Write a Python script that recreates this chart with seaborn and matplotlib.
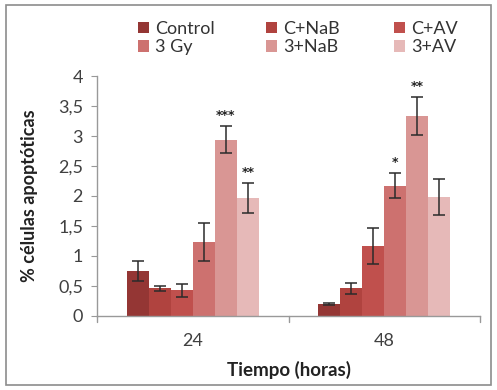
import matplotlib
matplotlib.use("Agg")
import matplotlib.pyplot as plt
import seaborn as sns
import pandas as pd
import numpy as np
from matplotlib.patches import Rectangle, Patch

times = ["24", "48"]
groups = ["Control", "C+NaB", "C+AV", "3 Gy", "3+NaB", "3+AV"]
vals_24 = [0.75, 0.46, 0.43, 1.23, 2.94, 1.97]
vals_48 = [0.20, 0.46, 1.17, 2.17, 3.33, 1.98]
err_24 = [0.16, 0.04, 0.11, 0.32, 0.22, 0.25]
err_48 = [0.01, 0.09, 0.30, 0.21, 0.32, 0.30]
stars_24 = ["", "", "", "", "***", "**"]
stars_48 = ["", "", "", "*", "**", ""]
colors = ["#943634", "#B0433F", "#C0504D", "#CD716F", "#D99694", "#E6B9B8"]

rows = []
for t, vals, errs, st in [("24", vals_24, err_24, stars_24), ("48", vals_48, err_48, stars_48)]:
    for g, v, e, s in zip(groups, vals, errs, st):
        rows.append(dict(Tiempo=t, Grupo=g, valor=v, err=e, star=s))
df = pd.DataFrame(rows)

sns.set_style("white")
plt.rcParams['font.family'] = ['Lato', 'DejaVu Sans']

W, H = 497, 390
fig = plt.figure(figsize=(W / 100, H / 100), dpi=100)
ax = fig.add_axes([0.195, 0.19, 0.771, 0.615])

sns.barplot(data=df, x="Tiempo", y="valor", hue="Grupo", order=times, hue_order=groups,
            palette=colors, errorbar=None, width=0.69, saturation=1, ax=ax,
            edgecolor="none", linewidth=0, legend=False)

# error bars and stars from bar geometry
for hi, g in enumerate(groups):
    cont = ax.containers[hi]
    for ti, t in enumerate(times):
        bar = cont.patches[ti]
        row = df[(df.Tiempo == t) & (df.Grupo == g)].iloc[0]
        xc = bar.get_x() + bar.get_width() / 2
        h = bar.get_height()
        ax.errorbar(xc, h, yerr=row.err, fmt="none", ecolor="#2b2b2b", elinewidth=1.1,
                    capsize=4, capthick=1.1)
        if row.star:
            ax.text(xc, h + row.err + 0.07, row.star, ha="center", va="bottom",
                    fontsize=9, fontweight="bold", color="#222222", family="DejaVu Sans")

ax.set_ylim(0, 4)
ax.set_xlim(-0.5, 1.5)
ax.set_yticks(np.arange(0, 4.01, 0.5))
ax.set_yticklabels([("%g" % v).replace(".", ",") for v in np.arange(0, 4.01, 0.5)])
ax.tick_params(axis="y", length=4, color="#999999", labelsize=13, labelcolor="#404040", pad=6, left=True)
ax.set_xticks([0, 1])
ax.set_xticklabels(times)
ax.tick_params(axis="x", length=0, labelsize=13, labelcolor="#404040", pad=12)
for v in [-0.5, 0.5, 1.5]:
    ax.plot([v, v], [0, -0.1], color="#999999", lw=1, clip_on=False)

for s in ["top", "right"]:
    ax.spines[s].set_visible(False)
ax.spines["left"].set_color("#999999")
ax.spines["bottom"].set_color("#999999")
ax.spines["left"].set_linewidth(1)
ax.spines["bottom"].set_linewidth(1)

ax.set_ylabel("% células apoptóticas", fontsize=13, fontweight="bold", color="#222222", labelpad=14)
ax.set_xlabel("Tiempo (horas)", fontsize=13.5, fontweight="bold", color="#222222", labelpad=9)

# legend: three equally spaced columns, filled row-wise
handles = [Patch(facecolor=c, edgecolor="none", label=g) for c, g in zip(colors, groups)]
col_x = [138, 266, 394]
for ci, x0 in enumerate(col_x):
    idx = [ci, ci + 3]
    fig.legend([handles[i] for i in idx], [groups[i] for i in idx], ncol=1,
               loc="upper left", bbox_to_anchor=(x0 / W, 1 - 21 / H), frameon=False,
               fontsize=13, handlelength=0.6, handleheight=0.6, handletextpad=0.35,
               labelspacing=0.12, labelcolor="#333333", borderpad=0, borderaxespad=0)

fig.patches.append(Rectangle((0.012, 0.012), 0.976, 0.976, transform=fig.transFigure,
                             fill=False, edgecolor="#8c8c8c", linewidth=1.2))

fig.savefig("out.png", dpi=100)
